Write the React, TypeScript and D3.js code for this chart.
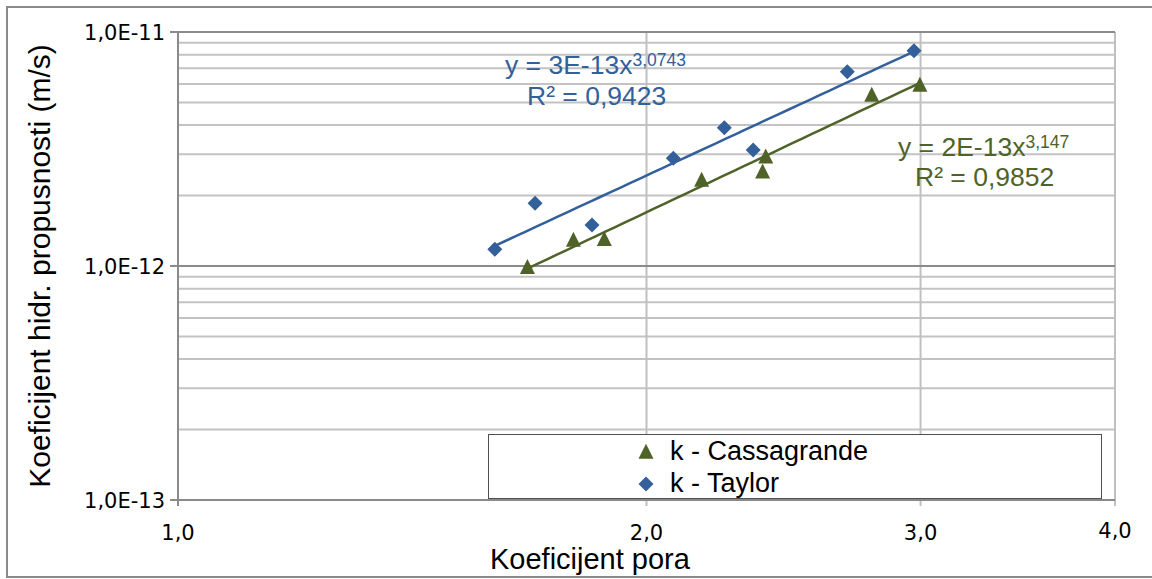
import React from "react";
import * as d3 from "d3";

const xTaylor = [1.598, 1.696, 1.845, 2.081, 2.244, 2.342, 2.692, 2.971];
const kTaylor = [1.178e-12, 1.853e-12, 1.497e-12, 2.886e-12, 3.9e-12, 3.13e-12, 6.77e-12, 8.32e-12];
const xCass = [1.677, 1.795, 1.879, 2.17, 2.375, 2.386, 2.791, 2.997];
const kCass = [9.87e-13, 1.29e-12, 1.3e-12, 2.33e-12, 2.53e-12, 2.93e-12, 5.38e-12, 5.93e-12];

const xTicks = [1, 2, 3, 4];
const xTickLabels = ["1,0", "2,0", "3,0", "4,0"];
const yTicks = [1e-13, 1e-12, 1e-11];
const yTickLabels = ["1,0E-13", "1,0E-12", "1,0E-11"];
const yMinor = [2e-13, 3e-13, 4e-13, 5e-13, 6e-13, 7e-13, 8e-13, 9e-13, 2e-12, 3e-12, 4e-12, 5e-12, 6e-12, 7e-12, 8e-12, 9e-12];

const seriesNames = ["k - Cassagrande", "k - Taylor"];
const eqTaylor = { coef: "y = 3E-13x", exp: "3,0743", r2: "R² = 0,9423" };
const eqCass = { coef: "y = 2E-13x", exp: "3,147", r2: "R² = 0,9852" };

const BLUE = "#33609B";
const GREEN = "#4F6228";

function powerFit(xs: number[], ys: number[]) {
  const lx = xs.map(Math.log);
  const ly = ys.map(Math.log);
  const mx = d3.mean(lx)!;
  const my = d3.mean(ly)!;
  let num = 0, den = 0;
  for (let i = 0; i < lx.length; i++) {
    num += (lx[i] - mx) * (ly[i] - my);
    den += (lx[i] - mx) ** 2;
  }
  const b = num / den;
  const a = Math.exp(my - b * mx);
  return (x: number) => a * Math.pow(x, b);
}

export default function App() {
  const W = 1152, H = 579;
  const left = 178, right = 1115, top = 32, bottom = 500;
  const x = d3.scaleLog().domain([1, 4]).range([left, right]);
  const y = d3.scaleLog().domain([1e-13, 1e-11]).range([bottom, top]);

  const fitT = powerFit(xTaylor, kTaylor);
  const fitC = powerFit(xCass, kCass);
  const line = d3.line<number[]>().x(d => x(d[0])).y(d => y(d[1]));
  const trend = (xs: number[], f: (v: number) => number) => {
    const lo = d3.min(xs)!, hi = d3.max(xs)!;
    const pts: number[][] = d3.range(0, 41).map(i => {
      const v = lo * Math.pow(hi / lo, i / 40);
      return [v, f(v)];
    });
    return line(pts) || "";
  };

  const diamond = (cx: number, cy: number, r = 7.5) =>
    `M${cx},${cy - r}L${cx + r},${cy}L${cx},${cy + r}L${cx - r},${cy}Z`;
  const tri = (cx: number, cy: number, s = 15) =>
    `M${cx},${cy - s * 0.55}L${cx + s / 2},${cy + s * 0.45}L${cx - s / 2},${cy + s * 0.45}Z`;

  const font = "'Liberation Sans', Arial, sans-serif";
  const tickFont = "'DejaVu Sans', sans-serif";

  return (
    <svg width={W} height={H} style={{ position: "absolute", left: 0, top: 0, background: "#fff" }}>
      <rect x={0} y={0} width={W} height={H} fill="#fff" />
      {/* outer border */}
      <path d={`M1160,7H7V577H1160`} fill="none" stroke="#8a8a8a" strokeWidth={2} />

      {/* minor horizontal gridlines */}
      {yMinor.map((v, i) => (
        <line key={"ym" + i} x1={left} x2={right} y1={y(v)} y2={y(v)} stroke="#c3c3c3" strokeWidth={2} />
      ))}
      {/* vertical gridlines */}
      {xTicks.slice(1).map((v, i) => (
        <line key={"xg" + i} x1={x(v)} x2={x(v)} y1={top} y2={bottom + 6} stroke="#c0c0c0" strokeWidth={2} />
      ))}
      {/* major horizontal gridlines */}
      {yTicks.map((v, i) => (
        <line key={"yg" + i} x1={left - 8} x2={right} y1={y(v)} y2={y(v)} stroke="#8a8a8a" strokeWidth={2} />
      ))}
      {/* axes */}
      <line x1={left} x2={left} y1={top} y2={bottom + 6} stroke="#8a8a8a" strokeWidth={2} />
      <line x1={left} x2={right} y1={bottom} y2={bottom} stroke="#8a8a8a" strokeWidth={2} />

      {/* tick labels */}
      {yTicks.map((v, i) => (
        <text key={"yl" + i} x={165} y={y(v) + 7.5} textAnchor="end" fontFamily={tickFont} fontSize={21} fill="#000">
          {yTickLabels[i]}
        </text>
      ))}
      {xTicks.map((v, i) => (
        <text key={"xl" + i} x={x(v)} y={i === 3 ? 538 : 540} textAnchor="middle" fontFamily={tickFont} fontSize={21} fill="#000">
          {xTickLabels[i]}
        </text>
      ))}

      {/* axis titles */}
      <text transform="translate(50,266) rotate(-90)" textAnchor="middle" fontFamily={font} fontSize={30} fill="#000">
        Koeficijent hidr. propusnosti (m/s)
      </text>
      <text x={490} y={569} fontFamily={font} fontSize={29} fill="#000">Koeficijent pora</text>

      {/* trendlines */}
      <path d={trend(xTaylor, fitT)} fill="none" stroke={BLUE} strokeWidth={2.5} />
      <path d={trend(xCass, fitC)} fill="none" stroke={GREEN} strokeWidth={2.5} />

      {/* markers */}
      {xTaylor.map((v, i) => (
        <path key={"t" + i} d={diamond(x(v), y(kTaylor[i]))} fill={BLUE} />
      ))}
      {xCass.map((v, i) => (
        <path key={"c" + i} d={tri(x(v), y(kCass[i]))} fill={GREEN} />
      ))}

      {/* equations */}
      <text x={505} y={74} fontFamily={font} fontSize={26.5} fill={BLUE}>
        {eqTaylor.coef}
        <tspan fontSize={17.5} dy={-8}>{eqTaylor.exp}</tspan>
      </text>
      <text x={527} y={105} fontFamily={font} fontSize={26.5} fill={BLUE}>{eqTaylor.r2}</text>
      <text x={898} y={156} fontFamily={font} fontSize={26.5} fill={GREEN}>
        {eqCass.coef}
        <tspan fontSize={17.5} dy={-8}>{eqCass.exp}</tspan>
      </text>
      <text x={915} y={186} fontFamily={font} fontSize={26.5} fill={GREEN}>{eqCass.r2}</text>

      {/* legend */}
      <rect x={488.5} y={434.5} width={613} height={64} fill="#fff" stroke="#505050" strokeWidth={1} />
      <path d={tri(646, 452)} fill={GREEN} />
      <text x={670} y={460} fontFamily={font} fontSize={27} fill="#000">{seriesNames[0]}</text>
      <path d={diamond(646, 484)} fill={BLUE} />
      <text x={670} y={492} fontFamily={font} fontSize={27} fill="#000">{seriesNames[1]}</text>
    </svg>
  );
}
